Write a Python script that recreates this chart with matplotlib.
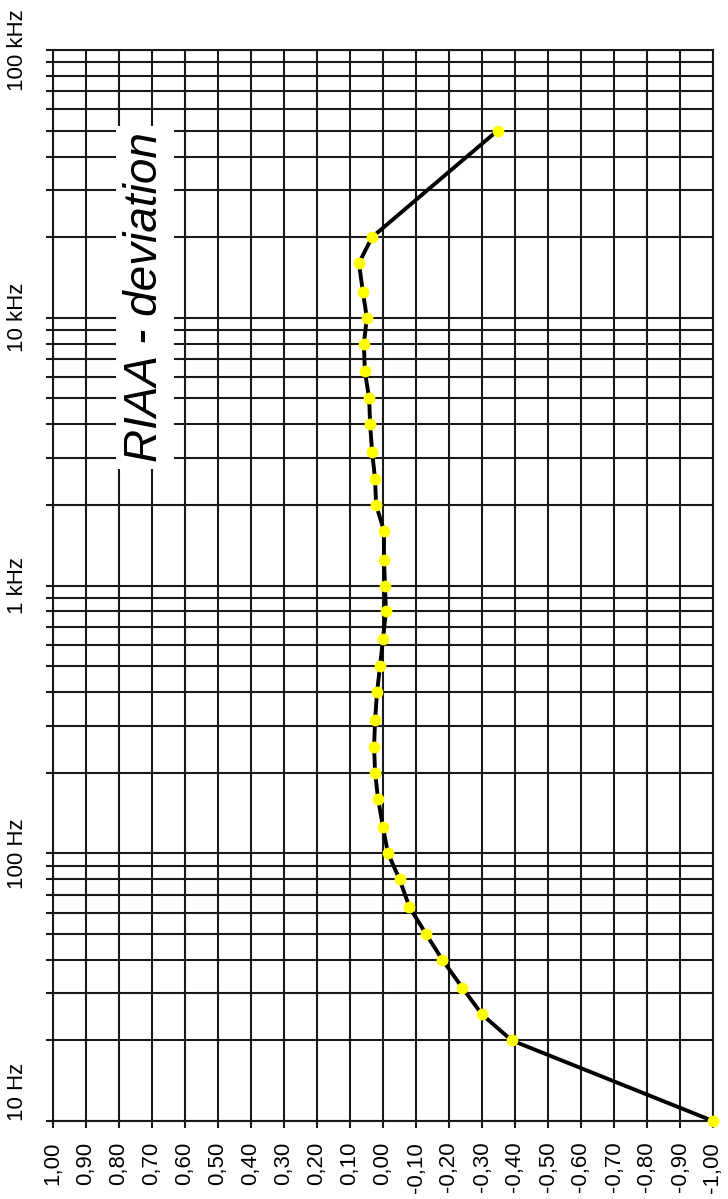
import numpy as np
import matplotlib.pyplot as plt
from matplotlib.ticker import FixedLocator, NullFormatter

plt.rcParams['font.family'] = ['Liberation Sans', 'DejaVu Sans']

# RIAA deviation (dB) per third-octave frequency (Hz)
freq = [10, 20, 25, 31.5, 40, 50, 63, 80, 100, 125, 160, 200, 250, 315, 400,
        500, 630, 800, 1000, 1250, 1600, 2000, 2500, 3150, 4000, 5000, 6300,
        8000, 10000, 12500, 16000, 20000, 50000]
dev = [-1.00, -0.39, -0.30, -0.24, -0.18, -0.13, -0.08, -0.05, -0.015, 0.00,
       0.015, 0.024, 0.027, 0.024, 0.018, 0.009, 0.00, -0.009, -0.006, -0.003,
       -0.003, 0.021, 0.024, 0.033, 0.039, 0.042, 0.055, 0.058, 0.049, 0.061,
       0.073, 0.033, -0.347]

db_ticks = [round(1.0 - 0.1 * i, 2) for i in range(21)]
db_labels = [("%.2f" % v).replace(".", ",").replace("-0,00", "0,00") for v in db_ticks]
freq_major = [10, 100, 1000, 10000, 100000]
freq_labels = ["10 Hz", "100 Hz", "1 kHz", "10 kHz", "100 kHz"]

fig = plt.figure(figsize=(7.28, 11.99), dpi=100)
ax = fig.add_axes([53 / 728, 78 / 1199, 660 / 728, 1071 / 1199])

ax.plot(dev, freq, color='black', lw=2.8, zorder=3)
ax.plot(dev, freq, 'o', color='#ffff00', markersize=8.5, markeredgewidth=0,
        zorder=4, clip_on=False)

ax.set_yscale('log')
ax.set_ylim(10, 100000)
ax.set_xlim(1.0, -1.0)

gc = '#1a1a1a'
# y ticks: decades labelled, all 1..9 lines drawn
minors = [m * 10 ** d for d in range(1, 5) for m in range(2, 10)]
ax.yaxis.set_major_locator(FixedLocator(freq_major))
ax.yaxis.set_minor_locator(FixedLocator(minors))
ax.yaxis.set_minor_formatter(NullFormatter())
ax.set_yticklabels(freq_labels, rotation=90, va='center', fontsize=16)
ax.tick_params(axis='y', which='both', direction='out', length=5, width=1.5,
               color=gc, pad=13)
ax.get_yticklabels()[0].set_va('bottom')   # 10 Hz sits above the corner

ax.set_xticks(db_ticks)
ax.set_xticklabels(db_labels, rotation=90, va='top', ha='center', fontsize=16)
ax.tick_params(axis='x', direction='out', length=5, width=1.5, color=gc, pad=10)

ax.grid(True, which='both', axis='y', color=gc, lw=1.5)
ax.grid(True, which='major', axis='x', color=gc, lw=1.5)
for s in ax.spines.values():
    s.set_color(gc)
    s.set_linewidth(1.5)

ax.text(0.139, 0.769, "RIAA - deviation", transform=ax.transAxes,
        rotation=90, ha='center', va='center', fontsize=33, style='italic',
        bbox=dict(facecolor='white', edgecolor='none', pad=5), zorder=5)

fig.savefig('out.png', dpi=100)
